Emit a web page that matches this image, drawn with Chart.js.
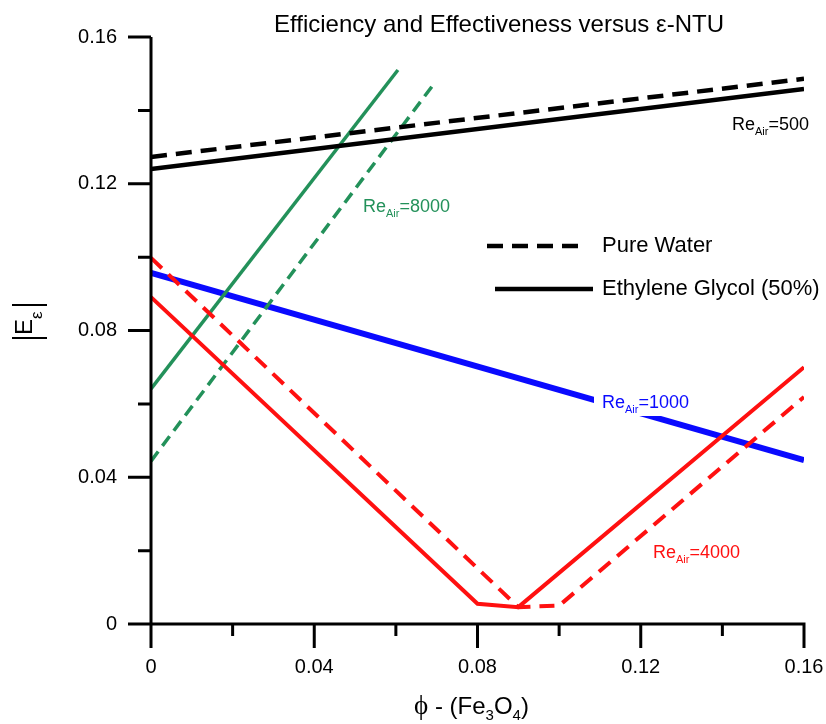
<!DOCTYPE html>
<html>
<head>
<meta charset="utf-8">
<title>Efficiency and Effectiveness versus ε-NTU</title>
<script src="https://cdn.jsdelivr.net/npm/chart.js@4.4.1/dist/chart.umd.min.js"></script>
<style>
  html, body { margin: 0; padding: 0; background: #fff; }
  #chart { display: block; }
</style>
</head>
<body>
<canvas id="chart" width="826" height="724"></canvas>
<script>
// --- data (phi = volume fraction of Fe3O4) ---
const phi500 = [0, 0.16];
const water500 = [0.1273, 0.1486];
const glycol500 = [0.1240, 0.1458];

const phi1000 = [0, 0.16];
const glycol1000 = [0.0957, 0.0447];

const phi4000Water = [0, 0.09, 0.10, 0.16];
const water4000 = [0.0998, 0.0046, 0.0050, 0.0619];
const phi4000Glycol = [0, 0.08, 0.09, 0.16];
const glycol4000 = [0.0891, 0.0055, 0.0046, 0.0700];

const phi8000Water = [0, 0.0693];
const water8000 = [0.0444, 0.1472];
const phi8000Glycol = [0, 0.0605];
const glycol8000 = [0.0641, 0.1510];

const majorTicks = [0, 0.04, 0.08, 0.12, 0.16];
const minorTicks = [0.02, 0.06, 0.10, 0.14];

const FONT = "'Liberation Sans', Arial, sans-serif";
const GREEN = '#23915a';
const RED = '#ff1010';
const BLUE = '#0a0aff';

const pts = (xs, ys) => xs.map((x, i) => ({ x, y: ys[i] }));

function line(label, xs, ys, color, width, dash) {
    return {
        label,
        data: pts(xs, ys),
        showLine: true,
        borderColor: color,
        backgroundColor: color,
        borderWidth: width,
        borderDash: dash || [],
        pointRadius: 0,
        tension: 0
    };
}

const datasets = [
    line('Water 500', phi500, water500, '#000', 4.5, [16, 9]),
    line('Glycol 500', phi500, glycol500, '#000', 4.5),
    line('Glycol 4000', phi4000Glycol, glycol4000, RED, 4),
    line('Water 4000', phi4000Water, water4000, RED, 4, [15, 9]),
    line('Glycol 8000', phi8000Glycol, glycol8000, GREEN, 3.5),
    line('Water 8000', phi8000Water, water8000, GREEN, 3.5, [12, 7]),
    line('Glycol 1000', phi1000, glycol1000, BLUE, 6)
];

// "Re" + subscript "Air" + "=value"
function drawRe(ctx, x, base, value, color, bg) {
    ctx.save();
    ctx.fillStyle = color;
    ctx.textBaseline = 'alphabetic';
    ctx.textAlign = 'left';
    ctx.font = '18px ' + FONT;
    const w1 = ctx.measureText('Re').width;
    ctx.font = '11px ' + FONT;
    const w2 = ctx.measureText('Air').width;
    ctx.font = '18px ' + FONT;
    const w3 = ctx.measureText('=' + value).width;
    if (bg) {
        ctx.fillStyle = '#fff';
        ctx.fillRect(x - 8, base - 18, w1 + w2 + w3 + 8, 26);
        ctx.fillStyle = color;
    }
    ctx.fillText('Re', x, base);
    ctx.font = '11px ' + FONT;
    ctx.fillText('Air', x + w1, base + 5);
    ctx.font = '18px ' + FONT;
    ctx.fillText('=' + value, x + w1 + w2, base);
    ctx.restore();
}

const decorations = {
    id: 'decorations',
    afterDatasetsDraw(chart) {
        const { ctx } = chart;
        const xs = chart.scales.x, ys = chart.scales.y;
        const x0 = xs.getPixelForValue(0), x1 = xs.getPixelForValue(0.16);
        const y0 = ys.getPixelForValue(0), y1 = ys.getPixelForValue(0.16);

        // curve labels
        drawRe(ctx, 732, 130, '500', '#000');
        drawRe(ctx, 363, 212, '8000', GREEN);
        drawRe(ctx, 602, 408, '1000', BLUE, true);
        drawRe(ctx, 653, 558, '4000', RED);

        // axes with outward ticks
        ctx.save();
        ctx.strokeStyle = '#000';
        ctx.lineWidth = 3;
        ctx.lineCap = 'butt';
        ctx.beginPath();
        ctx.moveTo(x0, y1);
        ctx.lineTo(x0, y0 + 24);
        ctx.moveTo(x0 - 23, y0);
        ctx.lineTo(x1 + 1.5, y0);
        majorTicks.forEach(v => {
            const px = xs.getPixelForValue(v);
            ctx.moveTo(px, y0);
            ctx.lineTo(px, y0 + 24);
            const py = ys.getPixelForValue(v);
            ctx.moveTo(x0, py);
            ctx.lineTo(x0 - 23, py);
        });
        minorTicks.forEach(v => {
            const px = xs.getPixelForValue(v);
            ctx.moveTo(px, y0);
            ctx.lineTo(px, y0 + 12);
            const py = ys.getPixelForValue(v);
            ctx.moveTo(x0, py);
            ctx.lineTo(x0 - 13, py);
        });
        ctx.stroke();

        // title
        ctx.fillStyle = '#000';
        ctx.font = '24px ' + FONT;
        ctx.textAlign = 'center';
        ctx.textBaseline = 'alphabetic';
        ctx.fillText('Efficiency and Effectiveness versus ε-NTU', 499, 32);

        // legend
        ctx.lineWidth = 4.5;
        ctx.setLineDash([16, 9]);
        ctx.beginPath();
        ctx.moveTo(487, 246);
        ctx.lineTo(587, 246);
        ctx.stroke();
        ctx.setLineDash([]);
        ctx.beginPath();
        ctx.moveTo(495, 289);
        ctx.lineTo(593, 289);
        ctx.stroke();
        ctx.font = '22px ' + FONT;
        ctx.textAlign = 'left';
        ctx.textBaseline = 'middle';
        ctx.fillText('Pure Water', 602, 246);
        ctx.fillText('Ethylene Glycol (50%)', 602, 289);

        // y axis title |E_ε|
        ctx.lineWidth = 2;
        ctx.beginPath();
        ctx.moveTo(12, 305);
        ctx.lineTo(47, 305);
        ctx.moveTo(12, 338);
        ctx.lineTo(47, 338);
        ctx.stroke();
        ctx.save();
        ctx.translate(32, 335);
        ctx.rotate(-Math.PI / 2);
        ctx.textBaseline = 'alphabetic';
        ctx.textAlign = 'left';
        ctx.font = '24px ' + FONT;
        ctx.fillText('E', 0, 0);
        const ew = ctx.measureText('E').width;
        ctx.font = '17px ' + FONT;
        ctx.fillText('ε', ew, 10);
        ctx.restore();

        // x axis title ϕ - (Fe3O4)
        ctx.textBaseline = 'alphabetic';
        ctx.textAlign = 'left';
        let tx = 414;
        const tb = 714;
        const parts = [
            ['ϕ', "27px 'Liberation Serif', 'DejaVu Serif', serif", 0],
            [' - (Fe', '24px ' + FONT, 0],
            ['3', '15px ' + FONT, 6],
            ['O', '24px ' + FONT, 0],
            ['4', '15px ' + FONT, 6],
            [')', '24px ' + FONT, 0]
        ];
        parts.forEach(([t, f, dy]) => {
            ctx.font = f;
            ctx.fillText(t, tx, tb + dy);
            tx += ctx.measureText(t).width;
        });
        ctx.restore();
    }
};

const fmt = v => (Math.abs(v) < 1e-9 ? '0' : v.toFixed(2));

new Chart(document.getElementById('chart').getContext('2d'), {
    type: 'scatter',
    data: { datasets },
    options: {
        responsive: false,
        animation: false,
        devicePixelRatio: 1,
        layout: { padding: { top: 37, right: 22, left: 0, bottom: 0 } },
        plugins: {
            legend: { display: false },
            tooltip: { enabled: false },
            title: { display: false }
        },
        scales: {
            x: {
                type: 'linear',
                min: 0,
                max: 0.16,
                grid: { display: false, drawTicks: false },
                border: { display: false },
                ticks: {
                    stepSize: 0.04,
                    padding: 31,
                    color: '#000',
                    font: { family: FONT, size: 20 },
                    maxRotation: 0,
                    callback: fmt
                },
                afterFit: s => {
                    s.height = 100;
                    s.paddingLeft = 0;
                    s.paddingRight = 0;
                }
            },
            y: {
                type: 'linear',
                min: 0,
                max: 0.16,
                grid: { display: false, drawTicks: false },
                border: { display: false },
                ticks: {
                    stepSize: 0.04,
                    padding: 34,
                    color: '#000',
                    font: { family: FONT, size: 20 },
                    callback: fmt
                },
                afterFit: s => {
                    s.width = 151;
                    s.paddingTop = 0;
                    s.paddingBottom = 0;
                }
            }
        }
    },
    plugins: [decorations]
});
</script>
</body>
</html>
